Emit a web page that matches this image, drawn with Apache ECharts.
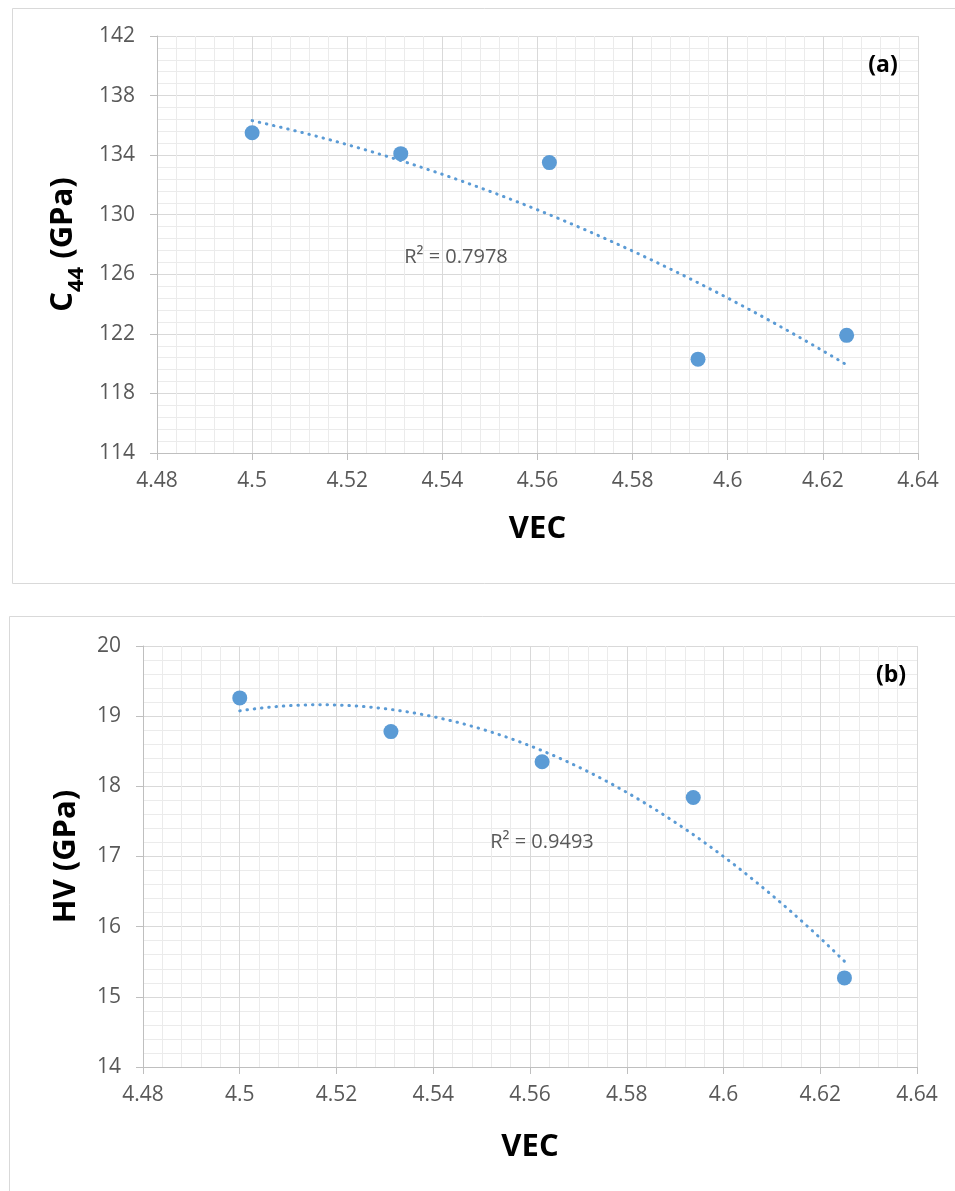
<!DOCTYPE html>
<html>
<head>
<meta charset="utf-8">
<title>C44 and HV versus VEC</title>
<script src="https://cdn.jsdelivr.net/npm/echarts@6/dist/echarts.min.js"></script>
<style>
  html, body { margin: 0; padding: 0; background: #ffffff; }
  #chart { width: 955px; height: 1191px; }
</style>
</head>
<body>
<div id="chart"></div>
<script>
// Valence electron concentration of the five alloys
const vec = [4.5, 4.53125, 4.5625, 4.59375, 4.625];
// Shear elastic constant C44 (GPa)
const c44 = [135.5, 134.1, 133.5, 120.3, 121.9];
// Vickers hardness HV (GPa)
const hv = [19.26, 18.78, 18.35, 17.84, 15.27];

// Axis ranges and tick steps
const vecRange = [4.48, 4.64, 0.02];
const c44Range = [114, 142, 4];
const hvRange = [14, 20, 1];

// Printed goodness-of-fit of the quadratic trend lines
const r2Labels = ['R\u00B2 = 0.7978', 'R\u00B2 = 0.9493'];
const panelLabels = ['(a)', '(b)'];

const FONT = '"Open Sans", "Noto Sans", sans-serif';
const BLUE = '#5b9bd5';

// Least-squares 2nd-order polynomial through (xs, ys), evaluated along the data span
function quadTrend(xs, ys, steps) {
  const m = xs.reduce((a, b) => a + b, 0) / xs.length;
  let S = [0, 0, 0, 0, 0], T = [0, 0, 0];
  xs.forEach((x, i) => {
    const u = x - m;
    for (let k = 0; k < 5; k++) S[k] += Math.pow(u, k);
    for (let k = 0; k < 3; k++) T[k] += ys[i] * Math.pow(u, k);
  });
  // Normal equations solved by Gaussian elimination
  const A = [[S[0], S[1], S[2], T[0]], [S[1], S[2], S[3], T[1]], [S[2], S[3], S[4], T[2]]];
  for (let c = 0; c < 3; c++) {
    for (let r = c + 1; r < 3; r++) {
      const f = A[r][c] / A[c][c];
      for (let k = c; k < 4; k++) A[r][k] -= f * A[c][k];
    }
  }
  const coef = [0, 0, 0];
  for (let r = 2; r >= 0; r--) {
    let s = A[r][3];
    for (let k = r + 1; k < 3; k++) s -= A[r][k] * coef[k];
    coef[r] = s / A[r][r];
  }
  const x0 = xs[0], x1 = xs[xs.length - 1];
  const pts = [];
  for (let i = 0; i <= steps; i++) {
    const x = x0 + (x1 - x0) * i / steps;
    const u = x - m;
    pts.push([x, coef[0] + coef[1] * u + coef[2] * u * u]);
  }
  return pts;
}

function xAxisFor(gridIndex, nameGap) {
  return {
    gridIndex: gridIndex,
    type: 'value',
    min: vecRange[0], max: vecRange[1], interval: vecRange[2],
    axisLine: { show: true, onZero: false, lineStyle: { color: '#bfbfbf', width: 1 } },
    axisTick: { show: true, length: 7, lineStyle: { color: '#bfbfbf' } },
    axisLabel: { fontSize: 21, color: '#595959', fontFamily: FONT, margin: 18 },
    splitLine: { show: true, lineStyle: { color: '#d9d9d9', width: 1 } },
    minorTick: { show: false, splitNumber: 5 },
    minorSplitLine: { show: true, lineStyle: { color: '#ebebeb', width: 1 } },
    name: 'VEC',
    nameLocation: 'middle',
    nameGap: nameGap,
    nameTextStyle: { fontSize: 31, fontWeight: 'bold', color: '#000000', fontFamily: FONT }
  };
}

function yAxisFor(gridIndex, range, name, nameGap) {
  return {
    gridIndex: gridIndex,
    type: 'value',
    min: range[0], max: range[1], interval: range[2],
    axisLine: { show: true, onZero: false, lineStyle: { color: '#bfbfbf', width: 1 } },
    axisTick: { show: true, length: 7, lineStyle: { color: '#bfbfbf' } },
    axisLabel: { fontSize: 21, color: '#595959', fontFamily: FONT, margin: 22 },
    splitLine: { show: true, lineStyle: { color: '#d9d9d9', width: 1 } },
    minorTick: { show: false, splitNumber: 5 },
    minorSplitLine: { show: true, lineStyle: { color: '#ebebeb', width: 1 } },
    name: name,
    nameLocation: 'middle',
    nameRotate: 90,
    nameGap: nameGap,
    nameTextStyle: {
      fontSize: 31, fontWeight: 'bold', color: '#000000', fontFamily: FONT,
      rich: {
        m: { fontSize: 31, fontWeight: 'bold', color: '#000000', fontFamily: FONT, lineHeight: 40, verticalAlign: 'top' },
        s: { fontSize: 22, fontWeight: 'bold', color: '#000000', fontFamily: FONT, lineHeight: 22, verticalAlign: 'bottom' }
      }
    }
  };
}

function pointSeries(ax, ys) {
  return {
    type: 'scatter',
    xAxisIndex: ax, yAxisIndex: ax,
    data: vec.map((x, i) => [x, ys[i]]),
    symbol: 'circle',
    symbolSize: 15,
    itemStyle: { color: BLUE, opacity: 1 },
    z: 3
  };
}

function trendSeries(ax, ys) {
  return {
    type: 'line',
    xAxisIndex: ax, yAxisIndex: ax,
    data: quadTrend(vec, ys, 60),
    showSymbol: false,
    symbol: 'none',
    lineStyle: { color: BLUE, width: 3, type: [0.5, 6.8], cap: 'round' },
    silent: true,
    z: 2
  };
}

const chart = echarts.init(document.getElementById('chart'), null, { renderer: 'canvas' });

chart.setOption({
  animation: false,
  backgroundColor: '#ffffff',
  grid: [
    { left: 157, top: 36, width: 761, height: 417 },
    { left: 143, top: 646, width: 774, height: 421 }
  ],
  xAxis: [xAxisFor(0, 61), xAxisFor(1, 65)],
  yAxis: [
    yAxisFor(0, c44Range, '{m|C}{s|44}{m| (GPa)}', 65),
    yAxisFor(1, hvRange, '{m|HV (GPa)}', 52)
  ],
  series: [
    trendSeries(0, c44), pointSeries(0, c44),
    trendSeries(1, hv), pointSeries(1, hv)
  ],
  graphic: [
    // Chart-area frames
    { type: 'rect', shape: { x: 12.5, y: 8.5, width: 960, height: 575 },
      style: { fill: 'none', stroke: '#d9d9d9', lineWidth: 1 }, z: -10 },
    { type: 'rect', shape: { x: 9.5, y: 616.5, width: 960, height: 600 },
      style: { fill: 'none', stroke: '#d9d9d9', lineWidth: 1 }, z: -10 },
    // Fit annotations
    { type: 'text', x: 456, y: 257, z: 10,
      style: { text: r2Labels[0], font: '20px ' + FONT, fill: '#595959', align: 'center', verticalAlign: 'middle' } },
    { type: 'text', x: 542, y: 842, z: 10,
      style: { text: r2Labels[1], font: '20px ' + FONT, fill: '#595959', align: 'center', verticalAlign: 'middle' } },
    // Panel letters
    { type: 'text', x: 883, y: 65, z: 10,
      style: { text: panelLabels[0], font: 'bold 23px ' + FONT, fill: '#000000', align: 'center', verticalAlign: 'middle' } },
    { type: 'text', x: 891, y: 675, z: 10,
      style: { text: panelLabels[1], font: 'bold 23px ' + FONT, fill: '#000000', align: 'center', verticalAlign: 'middle' } }
  ]
});
</script>
</body>
</html>
